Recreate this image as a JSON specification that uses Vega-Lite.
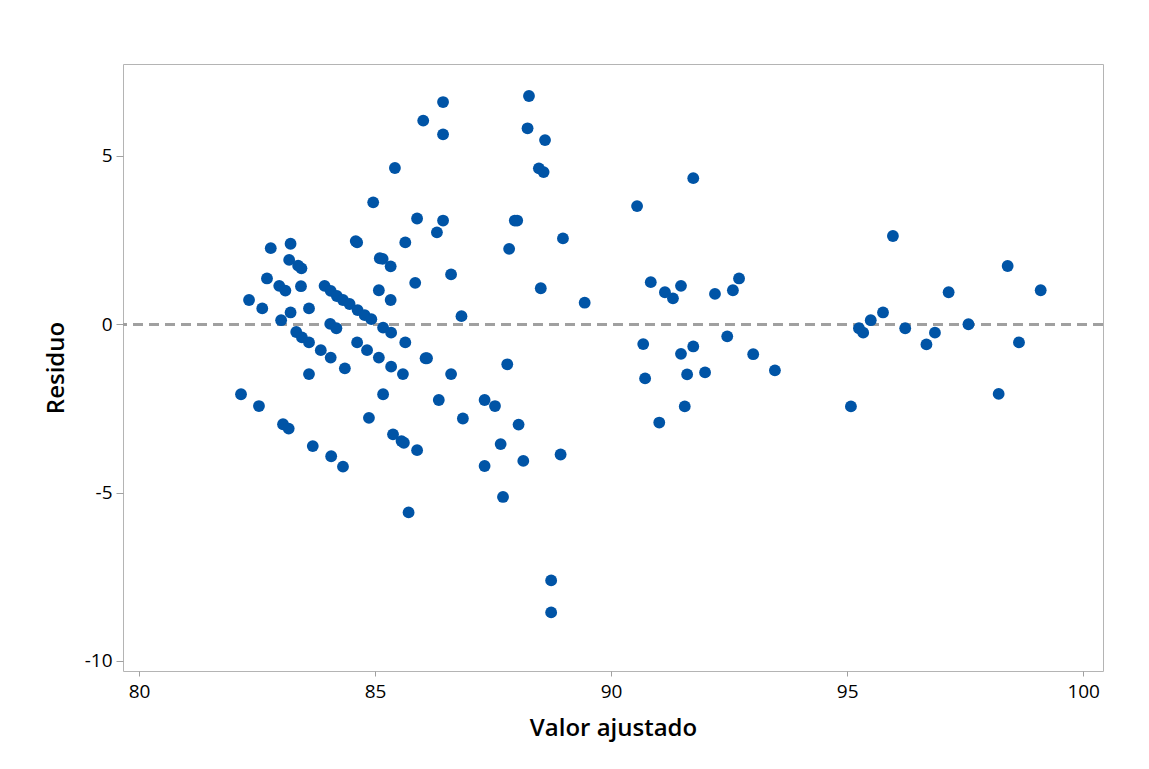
{
  "$schema": "https://vega.github.io/schema/vega-lite/v6.json",
  "autosize": {"type": "none"},
  "width": 980,
  "height": 607,
  "padding": {"left": 123, "top": 64, "right": 46, "bottom": 98},
  "background": "white",
  "config": {
    "view": {"stroke": "#b4b4b4", "strokeWidth": 1},
    "font": "Open Sans"
  },
  "data": {"values": [
    {"ajustado": 82.16, "residuo": -2.08},
    {"ajustado": 82.33, "residuo": 0.72},
    {"ajustado": 82.54, "residuo": -2.43},
    {"ajustado": 82.61, "residuo": 0.47},
    {"ajustado": 82.71, "residuo": 1.36},
    {"ajustado": 82.79, "residuo": 2.26},
    {"ajustado": 82.97, "residuo": 1.14},
    {"ajustado": 83.01, "residuo": 0.12},
    {"ajustado": 83.05, "residuo": -2.97},
    {"ajustado": 83.10, "residuo": 1.0},
    {"ajustado": 83.17, "residuo": -3.10},
    {"ajustado": 83.18, "residuo": 1.91},
    {"ajustado": 83.21, "residuo": 2.39},
    {"ajustado": 83.21, "residuo": 0.35},
    {"ajustado": 83.33, "residuo": -0.23},
    {"ajustado": 83.37, "residuo": 1.74},
    {"ajustado": 83.44, "residuo": 1.66},
    {"ajustado": 83.43, "residuo": 1.13},
    {"ajustado": 83.45, "residuo": -0.39},
    {"ajustado": 83.60, "residuo": -0.54},
    {"ajustado": 83.60, "residuo": 0.47},
    {"ajustado": 83.60, "residuo": -1.48},
    {"ajustado": 83.68, "residuo": -3.62},
    {"ajustado": 83.85, "residuo": -0.77},
    {"ajustado": 83.93, "residuo": 1.14},
    {"ajustado": 84.06, "residuo": 0.99},
    {"ajustado": 84.06, "residuo": -0.99},
    {"ajustado": 84.07, "residuo": -3.92},
    {"ajustado": 84.05, "residuo": 0.01},
    {"ajustado": 84.18, "residuo": -0.12},
    {"ajustado": 84.19, "residuo": 0.84},
    {"ajustado": 84.32, "residuo": 0.72},
    {"ajustado": 84.36, "residuo": -1.31},
    {"ajustado": 84.32, "residuo": -4.23},
    {"ajustado": 84.46, "residuo": 0.60},
    {"ajustado": 84.59, "residuo": 2.47},
    {"ajustado": 84.62, "residuo": 2.43},
    {"ajustado": 84.63, "residuo": 0.42},
    {"ajustado": 84.62, "residuo": -0.54},
    {"ajustado": 84.78, "residuo": 0.27},
    {"ajustado": 84.83, "residuo": -0.77},
    {"ajustado": 84.87, "residuo": -2.78},
    {"ajustado": 84.92, "residuo": 0.15},
    {"ajustado": 84.96, "residuo": 3.62},
    {"ajustado": 85.08, "residuo": 1.01},
    {"ajustado": 85.08, "residuo": -0.99},
    {"ajustado": 85.10, "residuo": 1.96},
    {"ajustado": 85.16, "residuo": 1.94},
    {"ajustado": 85.17, "residuo": -0.10},
    {"ajustado": 85.17, "residuo": -2.08},
    {"ajustado": 85.33, "residuo": 1.72},
    {"ajustado": 85.33, "residuo": 0.72},
    {"ajustado": 85.34, "residuo": -0.25},
    {"ajustado": 85.34, "residuo": -1.26},
    {"ajustado": 85.38, "residuo": -3.27},
    {"ajustado": 85.42, "residuo": 4.64},
    {"ajustado": 85.56, "residuo": -3.47},
    {"ajustado": 85.61, "residuo": -3.52},
    {"ajustado": 85.59, "residuo": -1.48},
    {"ajustado": 85.64, "residuo": 2.43},
    {"ajustado": 85.64, "residuo": -0.54},
    {"ajustado": 85.71, "residuo": -5.59},
    {"ajustado": 85.85, "residuo": 1.23},
    {"ajustado": 85.89, "residuo": -3.74},
    {"ajustado": 85.89, "residuo": 3.14},
    {"ajustado": 86.02, "residuo": 6.05},
    {"ajustado": 86.07, "residuo": -1.01},
    {"ajustado": 86.10, "residuo": -1.01},
    {"ajustado": 86.31, "residuo": 2.73},
    {"ajustado": 86.35, "residuo": -2.25},
    {"ajustado": 86.44, "residuo": 6.60},
    {"ajustado": 86.44, "residuo": 5.64},
    {"ajustado": 86.44, "residuo": 3.08},
    {"ajustado": 86.61, "residuo": 1.48},
    {"ajustado": 86.61, "residuo": -1.48},
    {"ajustado": 86.83, "residuo": 0.24},
    {"ajustado": 86.86, "residuo": -2.80},
    {"ajustado": 87.32, "residuo": -2.25},
    {"ajustado": 87.32, "residuo": -4.21},
    {"ajustado": 87.54, "residuo": -2.43},
    {"ajustado": 87.66, "residuo": -3.56},
    {"ajustado": 87.71, "residuo": -5.13},
    {"ajustado": 87.80, "residuo": -1.19},
    {"ajustado": 87.84, "residuo": 2.24},
    {"ajustado": 87.96, "residuo": 3.08},
    {"ajustado": 88.01, "residuo": 3.08},
    {"ajustado": 88.04, "residuo": -2.98},
    {"ajustado": 88.14, "residuo": -4.06},
    {"ajustado": 88.23, "residuo": 5.82},
    {"ajustado": 88.26, "residuo": 6.78},
    {"ajustado": 88.47, "residuo": 4.63},
    {"ajustado": 88.57, "residuo": 4.52},
    {"ajustado": 88.51, "residuo": 1.07},
    {"ajustado": 88.60, "residuo": 5.47},
    {"ajustado": 88.73, "residuo": -7.61},
    {"ajustado": 88.73, "residuo": -8.56},
    {"ajustado": 88.93, "residuo": -3.87},
    {"ajustado": 88.98, "residuo": 2.55},
    {"ajustado": 89.44, "residuo": 0.64},
    {"ajustado": 90.55, "residuo": 3.51},
    {"ajustado": 90.68, "residuo": -0.59},
    {"ajustado": 90.72, "residuo": -1.61},
    {"ajustado": 90.84, "residuo": 1.25},
    {"ajustado": 91.02, "residuo": -2.92},
    {"ajustado": 91.14, "residuo": 0.95},
    {"ajustado": 91.31, "residuo": 0.77},
    {"ajustado": 91.48, "residuo": 1.14},
    {"ajustado": 91.48, "residuo": -0.88},
    {"ajustado": 91.56, "residuo": -2.44},
    {"ajustado": 91.61, "residuo": -1.49},
    {"ajustado": 91.74, "residuo": 4.34},
    {"ajustado": 91.74, "residuo": -0.66},
    {"ajustado": 91.99, "residuo": -1.43},
    {"ajustado": 92.20, "residuo": 0.90},
    {"ajustado": 92.46, "residuo": -0.36},
    {"ajustado": 92.58, "residuo": 1.01},
    {"ajustado": 92.71, "residuo": 1.36},
    {"ajustado": 93.01, "residuo": -0.89},
    {"ajustado": 93.47, "residuo": -1.37},
    {"ajustado": 95.08, "residuo": -2.44},
    {"ajustado": 95.25, "residuo": -0.12},
    {"ajustado": 95.34, "residuo": -0.25},
    {"ajustado": 95.50, "residuo": 0.12},
    {"ajustado": 95.76, "residuo": 0.35},
    {"ajustado": 95.97, "residuo": 2.62},
    {"ajustado": 96.23, "residuo": -0.12},
    {"ajustado": 96.68, "residuo": -0.60},
    {"ajustado": 96.86, "residuo": -0.25},
    {"ajustado": 97.15, "residuo": 0.95},
    {"ajustado": 97.57, "residuo": 0.0},
    {"ajustado": 98.21, "residuo": -2.07},
    {"ajustado": 98.40, "residuo": 1.73},
    {"ajustado": 98.64, "residuo": -0.54},
    {"ajustado": 99.10, "residuo": 1.01}
  ]},
  "layer": [
    {
      "mark": {"type": "rule", "color": "#a0a0a0", "strokeWidth": 2, "strokeDash": [10, 6]},
      "encoding": {"y": {"datum": 0, "type": "quantitative"}}
    },
    {
      "mark": {"type": "circle", "size": 140, "color": "#0054a6", "opacity": 1},
      "encoding": {
        "x": {
          "field": "ajustado", "type": "quantitative",
          "scale": {"domain": [79.66, 100.42], "nice": false, "zero": false},
          "axis": {
            "title": "Valor ajustado", "values": [80, 85, 90, 95, 100],
            "grid": false, "domain": false, "tickColor": "#a0a0a0", "tickSize": 5,
            "labelFontSize": 19, "labelColor": "#000", "labelPadding": 6, "labelFont": "Open Sans",
            "titleFontSize": 24, "titleFontWeight": 600, "titleColor": "#000", "titlePadding": 15, "titleFont": "Open Sans"
          }
        },
        "y": {
          "field": "residuo", "type": "quantitative",
          "scale": {"domain": [-10.3, 7.73], "nice": false, "zero": false},
          "axis": {
            "title": "Residuo", "values": [-10, -5, 0, 5],
            "labelExpr": "toString(datum.value)",
            "grid": false, "domain": false, "tickColor": "#a0a0a0", "tickSize": 7,
            "labelFontSize": 19, "labelColor": "#000", "labelPadding": 4, "labelFont": "Open Sans",
            "titleFontSize": 24, "titleFontWeight": 600, "titleColor": "#000", "titlePadding": 16, "titleFont": "Open Sans"
          }
        }
      }
    }
  ]
}
